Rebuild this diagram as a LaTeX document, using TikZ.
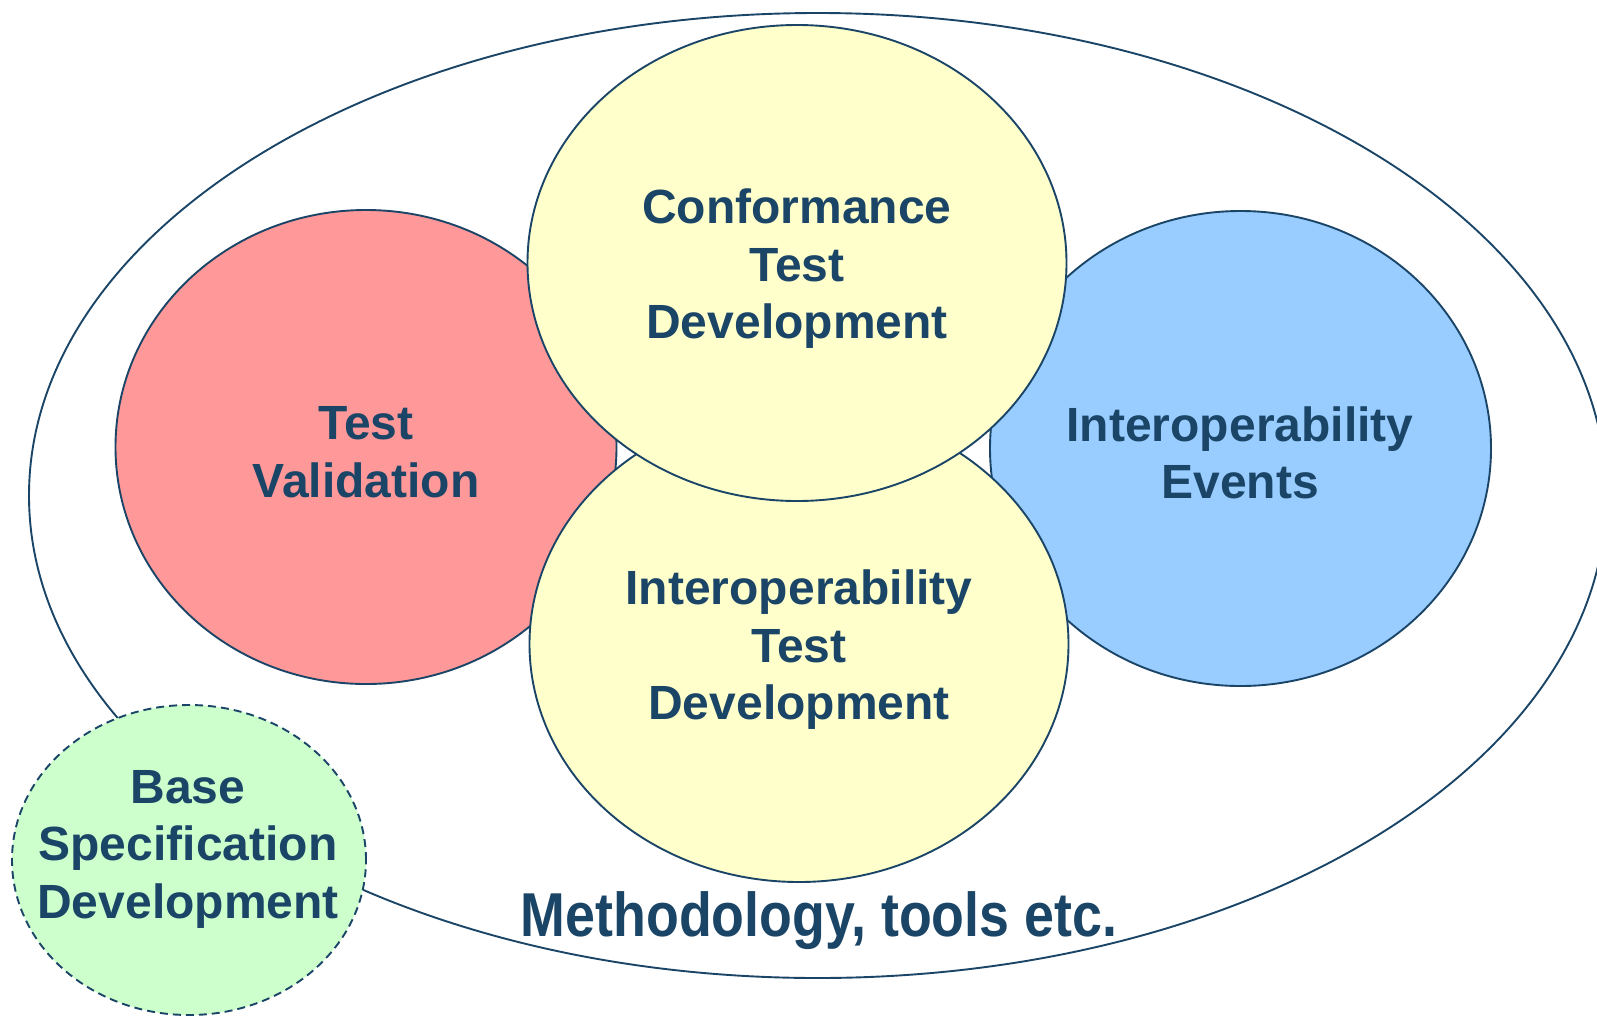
\documentclass[tikz,border=0pt]{standalone}
\usepackage{fontspec}
\setmainfont{Liberation Sans}
\usetikzlibrary{shapes.geometric}
\definecolor{ink}{HTML}{1B4567}
\definecolor{redfill}{HTML}{FF9999}
\definecolor{bluefill}{HTML}{99CCFF}
\definecolor{yellowfill}{HTML}{FFFFCC}
\definecolor{greenfill}{HTML}{CCFFCC}
\tikzset{
  blob/.style={ellipse, draw=ink, line width=1.9pt, inner sep=0pt, outer sep=0pt},
  lbl/.style={text=ink, font=\bfseries\fontsize{48}{57.5}\selectfont, align=center, inner sep=0pt},
}
\begin{document}
\begin{tikzpicture}[x=1pt,y=-1pt]
\useasboundingbox (0,0) rectangle (1597,1015);
\clip (0,0) rectangle (1597,1015);
\node[blob, fill=white, minimum width=1577.4pt, minimum height=965pt] (outer) at (817.7,495.5) {};
\node[blob, fill=redfill, minimum width=501pt, minimum height=474pt] (val) at (366,447) {};
\node[blob, fill=bluefill, minimum width=501pt, minimum height=475pt] (ev) at (1240.5,448.5) {};
\node[blob, fill=yellowfill, minimum width=539pt, minimum height=476pt] (itd) at (799,644) {};
\node[blob, fill=yellowfill, minimum width=539pt, minimum height=476pt] (ctd) at (797,263) {};
\node[blob, fill=greenfill, dash pattern=on 8pt off 5pt, minimum width=354pt, minimum height=310pt] (base) at (189,860) {};
\node[lbl] (tctd) at (797,269) {Conformance\\Test\\Development};
\node[lbl] (tval) at (366,452) {Test\\Validation};
\node[lbl] (tev) at (1240,453) {Interoperability\\Events};
\node[lbl] (titd) at (799,650) {Interoperability\\Test\\Development};
\node[lbl] (tbase) at (188,849) {Base\\Specification\\Development};
\node[text=ink, inner sep=0pt, xscale=0.867, font=\bfseries\fontsize{62}{70}\selectfont] (meth) at (819,921) {Methodology, tools etc.};
\end{tikzpicture}
\end{document}
